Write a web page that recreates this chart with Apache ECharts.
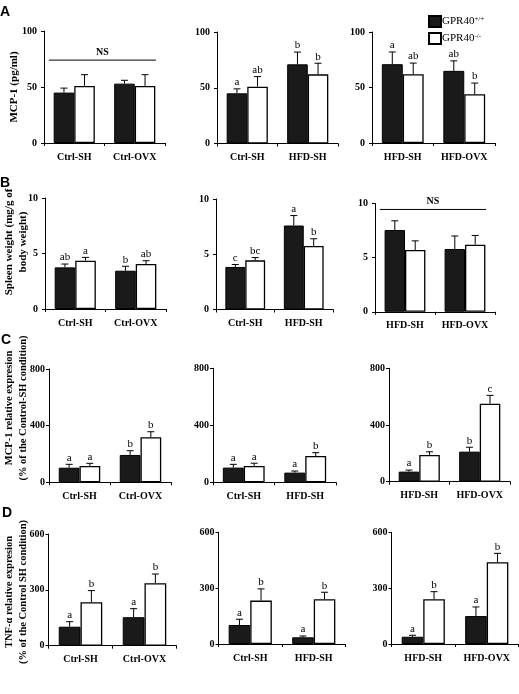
<!DOCTYPE html>
<html><head><meta charset="utf-8">
<script src="https://cdn.jsdelivr.net/npm/echarts@6/dist/echarts.min.js"></script>
<style>html,body{margin:0;padding:0;background:#fff}#c{width:519px;height:694px}</style>
</head><body><div id="c"></div>
<script>
// ---------- data ----------
const catsCol1 = ['Ctrl-SH', 'Ctrl-OVX'];
const catsCol2 = ['Ctrl-SH', 'HFD-SH'];
const catsCol3 = ['HFD-SH', 'HFD-OVX'];
const seriesNames = ['GPR40+/+', 'GPR40-/-'];

// A: MCP-1 (pg/ml), panels col1..col3
const mcpWt = [[45, 53], [45, 71], [71, 65]];
const mcpWtSe = [[4, 3], [4, 11], [11, 9]];
const mcpKo = [[51, 51], [51, 62], [62, 44]];
const mcpKoSe = [[10, 10], [9, 10], [10, 10]];
const mcpWtLetters = [['', ''], ['a', 'b'], ['a', 'ab']];
const mcpKoLetters = [['', ''], ['ab', 'b'], ['ab', 'b']];
const mcpNs = [74, null, null];

// B: spleen weight
const spWt = [[3.75, 3.45], [3.85, 7.6], [7.55, 5.8]];
const spWtSe = [[0.3, 0.4], [0.22, 0.9], [0.85, 1.2]];
const spKo = [[4.35, 4.05], [4.45, 5.75], [5.7, 6.2]];
const spKoSe = [[0.3, 0.3], [0.25, 0.65], [0.85, 0.85]];
const spWtLetters = [['ab', 'b'], ['c', 'a'], ['', '']];
const spKoLetters = [['a', 'ab'], ['bc', 'b'], ['', '']];
const spNs = [null, null, 9.45];

// C: MCP-1 relative expression
const mrWt = [[103, 193], [103, 68], [71, 212]];
const mrWtSe = [[24, 30], [23, 11], [11, 31]];
const mrKo = [[115, 318], [115, 185], [188, 550]];
const mrKoSe = [[19, 39], [19, 23], [23, 59]];
const mrWtLetters = [['a', 'b'], ['a', 'a'], ['a', 'b']];
const mrKoLetters = [['a', 'b'], ['a', 'b'], ['b', 'c']];

// D: TNF-a relative expression
const tnfWt = [[102, 153], [102, 36], [39, 150]];
const tnfWtSe = [[27, 46], [31, 7], [8, 49]];
const tnfKo = [[234, 336], [233, 240], [240, 439]];
const tnfKoSe = [[62, 49], [63, 38], [41, 48]];
const tnfWtLetters = [['a', 'a'], ['a', 'a'], ['a', 'a']];
const tnfKoLetters = [['b', 'b'], ['b', 'b'], ['b', 'b']];

const yMaxRows = [100, 10, 800, 600];
const yStepRows = [50, 5, 400, 300];

// ---------- layout ----------
const SERIF = '"Liberation Serif","Times New Roman",serif';
const GAP = 0.32;
const gridBoxes = [
  [[44, 31, 121, 112], [217, 32, 121, 111.5], [372, 32, 123, 111]],
  [[45, 198, 121, 111], [216, 199, 117, 110.5], [375, 203.5, 120, 108.3]],
  [[49, 369, 122, 113.3], [213, 368.3, 123, 114], [389, 368.3, 121, 113.4]],
  [[48.5, 534, 128, 111.7], [218.5, 532.3, 127, 111.7], [391.5, 532.3, 127, 111.7]]
];
const labelMarginRows = [7, 7, 4, 4];
const cols = [catsCol1, catsCol2, catsCol3];
const rows = [
  {wt: mcpWt, wtSe: mcpWtSe, ko: mcpKo, koSe: mcpKoSe, wl: mcpWtLetters, kl: mcpKoLetters, ns: mcpNs},
  {wt: spWt, wtSe: spWtSe, ko: spKo, koSe: spKoSe, wl: spWtLetters, kl: spKoLetters, ns: spNs},
  {wt: mrWt, wtSe: mrWtSe, ko: mrKo, koSe: mrKoSe, wl: mrWtLetters, kl: mrKoLetters, ns: [null, null, null]},
  {wt: tnfWt, wtSe: tnfWtSe, ko: tnfKo, koSe: tnfKoSe, wl: tnfWtLetters, kl: tnfKoLetters, ns: [null, null, null]}
];

function errItem(letters, side) {
  return function (params, api) {
    const xi = api.value(0), m = api.value(1), se = api.value(2);
    const band = api.size([1, 0])[0];
    const off = side * band * (1 - GAP) / 4;
    const pb = api.coord([xi, m]);
    const pt = api.coord([xi, m + se]);
    const cx = pb[0] + off;
    const cap = 3.5;
    const ch = [
      {type: 'line', shape: {x1: cx, y1: pb[1], x2: cx, y2: pt[1]}, style: {stroke: '#000', lineWidth: 1}},
      {type: 'line', shape: {x1: cx - cap, y1: pt[1], x2: cx + cap, y2: pt[1]}, style: {stroke: '#000', lineWidth: 1}}
    ];
    const L = letters[params.dataIndex];
    if (L) ch.push({type: 'text', x: cx, y: pt[1] - 1,
      style: {text: L, align: 'center', verticalAlign: 'bottom', textAlign: 'center', textVerticalAlign: 'bottom',
        font: '11px ' + SERIF, fill: '#000'}});
    return {type: 'group', children: ch};
  };
}
function nsItem(params, api) {
  const lv = api.value(1);
  const band = api.size([1, 0])[0];
  const p0 = api.coord([0, lv]);
  const p1 = api.coord([1, lv]);
  const xl = p0[0] - band * 0.42, xr = p1[0] + band * 0.35;
  return {type: 'group', children: [
    {type: 'line', shape: {x1: xl, y1: p0[1], x2: xr, y2: p0[1]}, style: {stroke: '#000', lineWidth: 1}},
    {type: 'text', x: (xl + xr) / 2, y: p0[1] - 3,
      style: {text: 'NS', align: 'center', verticalAlign: 'bottom', textAlign: 'center', textVerticalAlign: 'bottom',
        font: 'bold 10px ' + SERIF, fill: '#000'}}
  ]};
}

const grid = [], xAxis = [], yAxis = [], series = [];
let idx = 0;
rows.forEach((r, ri) => {
  cols.forEach((cats, ci) => {
    const b = gridBoxes[ri][ci];
    grid.push({left: b[0], top: b[1], width: b[2], height: b[3], containLabel: false});
    xAxis.push({type: 'category', gridIndex: idx, data: cats,
      axisLine: {lineStyle: {color: '#000', width: 1}},
      axisTick: {show: true, length: 3, lineStyle: {color: '#000'}},
      axisLabel: {color: '#000', fontFamily: SERIF, fontWeight: 'bold', fontSize: 10, margin: 9, interval: 0, hideOverlap: false}});
    yAxis.push({type: 'value', gridIndex: idx, min: 0, max: yMaxRows[ri], interval: yStepRows[ri],
      splitLine: {show: false},
      axisLine: {show: true, lineStyle: {color: '#000', width: 1}},
      axisTick: {show: true, length: 3, lineStyle: {color: '#000'}},
      axisLabel: {color: '#000', fontFamily: SERIF, fontWeight: 'bold', fontSize: 10, margin: labelMarginRows[ri]}});
    series.push({type: 'bar', name: seriesNames[0], xAxisIndex: idx, yAxisIndex: idx, data: r.wt[ci],
      barGap: '0%', barCategoryGap: (GAP * 100) + '%',
      itemStyle: {color: '#1a1a1a', borderColor: '#000', borderWidth: 1}, z: 2});
    series.push({type: 'bar', name: seriesNames[1], xAxisIndex: idx, yAxisIndex: idx, data: r.ko[ci],
      barGap: '0%', barCategoryGap: (GAP * 100) + '%',
      itemStyle: {color: '#fff', borderColor: '#000', borderWidth: 1.3}, z: 2});
    series.push({type: 'custom', xAxisIndex: idx, yAxisIndex: idx, z: 3,
      data: r.wt[ci].map((v, i) => [i, v, r.wtSe[ci][i]]), renderItem: errItem(r.wl[ci], -1)});
    series.push({type: 'custom', xAxisIndex: idx, yAxisIndex: idx, z: 3,
      data: r.ko[ci].map((v, i) => [i, v, r.koSe[ci][i]]), renderItem: errItem(r.kl[ci], 1)});
    if (r.ns[ci] != null) {
      series.push({type: 'custom', xAxisIndex: idx, yAxisIndex: idx, z: 3,
        data: [[0, r.ns[ci]]], renderItem: nsItem});
    }
    idx++;
  });
});

function vText(x, y, text, size) {
  return {type: 'text', x: x, y: y, rotation: Math.PI / 2,
    style: {text: text, align: 'center', verticalAlign: 'middle', textAlign: 'center', textVerticalAlign: 'middle',
      font: 'bold ' + size + 'px ' + SERIF, fill: '#000', lineHeight: 14}};
}
function panelLetter(x, y, t) {
  return {type: 'text', x: x, y: y,
    style: {text: t, align: 'center', verticalAlign: 'middle', textAlign: 'center', textVerticalAlign: 'middle',
      font: 'bold 14px "Liberation Sans",Arial,sans-serif', fill: '#000'}};
}

const option = {
  animation: false,
  backgroundColor: '#fff',
  grid, xAxis, yAxis, series,
  legend: {
    data: seriesNames, orient: 'vertical', left: 423, top: 10,
    itemWidth: 12, itemHeight: 11, itemGap: 4, icon: 'rect',
    formatter: n => n === 'GPR40+/+' ? 'GPR40{s|+/+}' : 'GPR40{s|-/-}',
    textStyle: {fontFamily: SERIF, fontSize: 11, color: '#000', padding: [0, 0, 0, -4],
      rich: {s: {fontFamily: SERIF, fontSize: 7, verticalAlign: 'top', padding: [0, 0, 5, 0]}}}
  },
  graphic: [
    panelLetter(5, 12, 'A'), panelLetter(5, 183, 'B'), panelLetter(6, 340, 'C'), panelLetter(7, 513, 'D'),
    vText(14, 87, 'MCP-1 (pg/ml)', 11),
    vText(16, 242, 'Spleen weight (mg/g of\nbody weight)', 11),
    vText(16, 408, 'MCP-1 relative expresion\n(% of the Control-SH condition)', 10.5),
    vText(16, 592, 'TNF-\u03b1 relative expresion\n(% of the Control SH condition)', 10.5)
  ]
};
const chart = echarts.init(document.getElementById('c'), null, {renderer: 'canvas'});
chart.setOption(option);
</script></body></html>
